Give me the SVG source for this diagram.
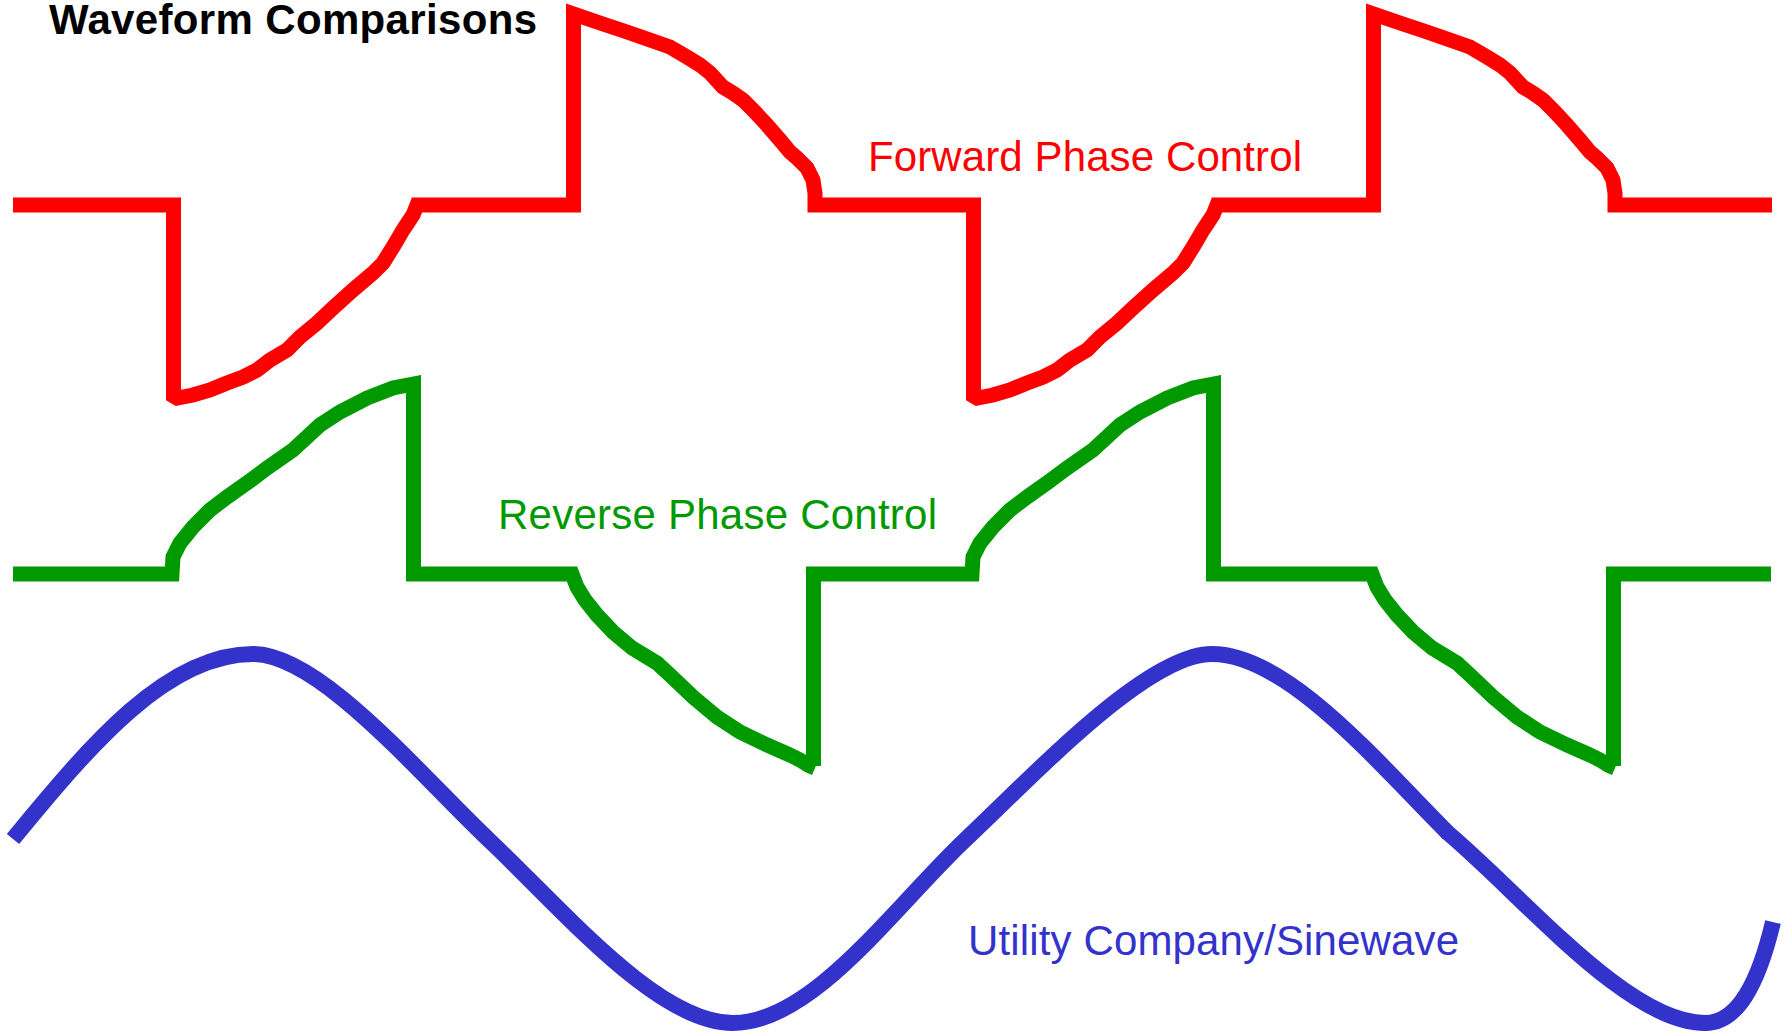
<svg xmlns="http://www.w3.org/2000/svg" width="1783" height="1034" viewBox="0 0 1783 1034">
  <style>
    .wave { fill: none; stroke-linejoin: miter; stroke-miterlimit: 2; stroke-linecap: butt; }
    .fwd { stroke: #ff0000; stroke-width: 15; }
    .rev { stroke: #009900; stroke-width: 15; }
    .sine { stroke: #3333cc; stroke-width: 16; }
    .label { font-family: "Liberation Sans", Arial, Helvetica, sans-serif; font-size: 42px; }
    .title { font-weight: bold; fill: #000000; }
  </style>
  <rect width="1783" height="1034" fill="#ffffff"/>

  <g id="title">
    <text class="label title" x="49" y="34" textLength="488" lengthAdjust="spacing">Waveform Comparisons</text>
  </g>

  <!-- Forward phase control: leading edge cut, two periods of 800 px -->
  <g id="forward-phase">
    <path class="wave fwd" d="M13,205 H173.5 V396 L177,398 L193,395 L210,390 L227,383 L243,377 L257,370 L270,360 L287,350 L300,337 L317,323 L333,308 L353,290 L373,273 L383,263 L393,247 L403,230 L413,215 L417,205 H573.5 V14 L600,23 L627,32 L650,40 L670,47 L687,57 L700,65 L710,73 L723,87 L733,93 L743,100 L753,110 L767,125 L780,140 L790,152 L797,158 L807,168 L813,180 L815,193 L815,205 H973.5 V396 L977,398 L993,395 L1010,390 L1027,383 L1043,377 L1057,370 L1070,360 L1087,350 L1100,337 L1117,323 L1133,308 L1153,290 L1173,273 L1183,263 L1193,247 L1203,230 L1213,215 L1217,205 H1373.5 V14 L1400,23 L1427,32 L1450,40 L1470,47 L1487,57 L1500,65 L1510,73 L1523,87 L1533,93 L1543,100 L1553,110 L1567,125 L1580,140 L1590,152 L1597,158 L1607,168 L1613,180 L1615,193 L1615,205 H1772"/>
    <text class="label" x="868" y="171" fill="#ff0000" textLength="434" lengthAdjust="spacing">Forward Phase Control</text>
  </g>

  <!-- Reverse phase control: trailing edge cut; each falling flank ends in its own stroke -->
  <g id="reverse-phase">
    <path class="wave rev" d="M13,574 H172 L173,557 L180,543 L193,527 L210,510 L227,497 L247,483 L267,468 L293,450 L307,437 L320,425 L340,412 L367,398 L393,388 L413.5,384 V574 H572 L577,587 L585,600 L597,615 L613,632 L632,648 L647,657 L657,663 L670,675 L693,697 L717,717 L740,732 L767,745 L790,755 L800,760 L808,765 L815,768 M813.5,766 V574 H972 L973,557 L980,543 L993,527 L1010,510 L1027,497 L1047,483 L1067,468 L1093,450 L1107,437 L1120,425 L1140,412 L1167,398 L1193,388 L1213.5,384 V574 H1372 L1377,587 L1385,600 L1397,615 L1413,632 L1432,648 L1447,657 L1457,663 L1470,675 L1493,697 L1517,717 L1540,732 L1567,745 L1590,755 L1600,760 L1608,765 L1615,768 M1613.5,766 V574 H1771"/>
    <text class="label" x="498" y="529" fill="#009900" textLength="439" lengthAdjust="spacing">Reverse Phase Control</text>
  </g>

  <!-- Utility supply sinewave -->
  <g id="sinewave">
    <path class="wave sine" d="M13,839 C91,744 167,654 253,654 C320,654 420,775 490,841 C565,912 658,1023 733,1023 C813,1023 895,906 965,840 C1035,774 1147,654 1212,654 C1287,654 1378,763 1448,833 C1525,898 1628,1023 1705,1023 C1737,1023 1758,985 1773,922"/>
    <text class="label" x="968" y="955" fill="#3333cc" textLength="491" lengthAdjust="spacing">Utility Company/Sinewave</text>
  </g>
</svg>
